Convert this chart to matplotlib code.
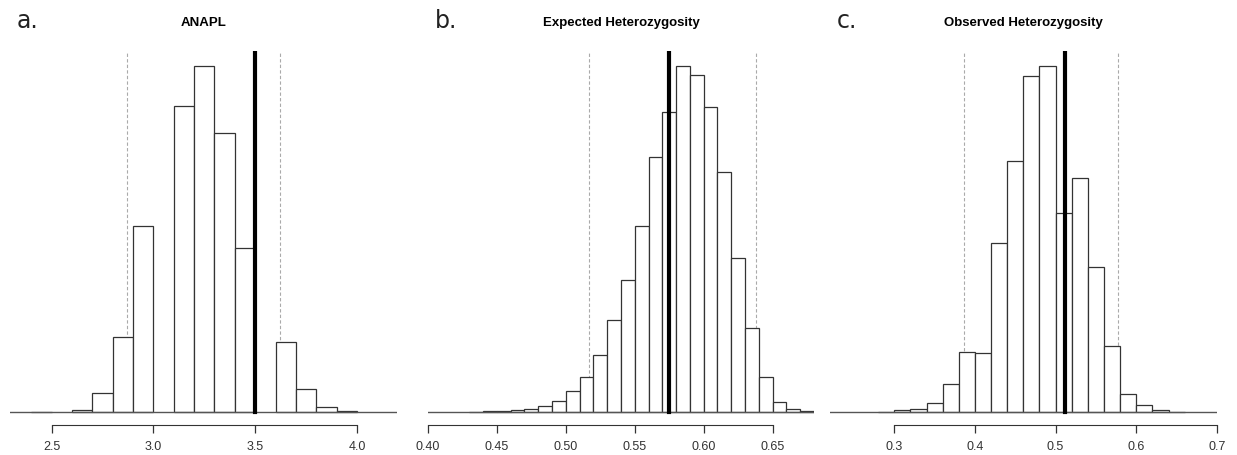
import matplotlib.pyplot as plt
import numpy as np

# panel a: ANAPL, bins of 0.1 starting at 2.4
anapl_start = 2.4
anapl_width = 0.1
anapl_counts = [0.5, 0, 6, 56, 226, 558, 0, 917, 1039, 838, 492, 0, 210, 70, 16, 3]
anapl_obs = 3.5
anapl_ci = [2.872, 3.623]

# panel b: expected heterozygosity, bins of 0.01 starting at 0.43
he_start = 0.43
he_width = 0.01
he_counts = [1, 2, 2, 5, 8, 18, 32, 62, 105, 171, 277, 397, 557, 764, 899,
             1039, 1011, 915, 720, 462, 253, 105, 30, 9, 2]
he_obs = 0.575
he_ci = [0.517, 0.638]

# panel c: observed heterozygosity, bins of 0.02 starting at 0.28
ho_start = 0.28
ho_width = 0.02
ho_counts = [1, 5, 8, 28, 83, 180, 176, 508, 752, 1009, 1039, 597, 702, 434,
             198, 53, 21, 7, 1]
ho_obs = 0.512
ho_ci = [0.386, 0.577]

panels = [
    ("a.", "ANAPL", anapl_start, anapl_width, anapl_counts, anapl_obs, anapl_ci,
     (2.295, 4.197), [2.5, 3.0, 3.5, 4.0], ["2.5", "3.0", "3.5", "4.0"], 10, 397),
    ("b.", "Expected Heterozygosity", he_start, he_width, he_counts, he_obs, he_ci,
     (0.410, 0.680), [0.40, 0.45, 0.50, 0.55, 0.60, 0.65],
     ["0.40", "0.45", "0.50", "0.55", "0.60", "0.65"], 428, 814),
    ("c.", "Observed Heterozygosity", ho_start, ho_width, ho_counts, ho_obs, ho_ci,
     (0.2204, 0.70), [0.3, 0.4, 0.5, 0.6, 0.7], ["0.3", "0.4", "0.5", "0.6", "0.7"], 830, 1217),
]

W, H = 1237, 456
fig = plt.figure(figsize=(W / 100, H / 100), dpi=100)
top_px, bot_px, base_px = 52, 426, 413
ymax = (base_px - top_px) * 3
ymin = -(bot_px - base_px) * 3

for letter, title, start, width, counts, obs, ci, xlim, ticks, labels, x0, x1 in panels:
    ax = fig.add_axes([x0 / W, (H - bot_px) / H, (x1 - x0) / W, (bot_px - top_px) / H])
    left = start + width * np.arange(len(counts))
    counts = np.array(counts, dtype=float)
    keep = counts > 0
    ax.bar(left[keep], counts[keep], width=width, align="edge", facecolor="white",
           edgecolor="#333333", linewidth=0.9, zorder=2)
    ax.axhline(0, color="#555555", linewidth=1.0, zorder=3)
    for c in ci:
        ax.plot([c, c], [0, ymax], color="#aaaaaa", linestyle="--", linewidth=0.8, dashes=(3, 2), zorder=1)
    ax.plot([obs, obs], [0, ymax], color="black", linewidth=3, zorder=4)
    ax.set_xlim(*xlim)
    ax.set_ylim(ymin, ymax)
    for s in ["top", "right", "left"]:
        ax.spines[s].set_visible(False)
    ax.spines["bottom"].set_bounds(ticks[0], ticks[-1])
    ax.spines["bottom"].set_color("#333333")
    ax.set_yticks([])
    ax.set_xticks(ticks)
    ax.set_xticklabels(labels, family="Liberation Sans")
    ax.tick_params(axis="x", length=6, width=0.9, color="#333333", labelsize=9,
                   labelcolor="#333333", pad=5)
    ax.patch.set_visible(False)
    fig.text((x0 + x1) / 2 / W, 1 - 23 / H, title, ha="center", va="center",
             fontsize=9.5, fontweight="bold", family="Liberation Sans")
    fig.text((x0 + 7) / W, 1 - 21 / H, letter, ha="left", va="center", fontsize=17,
             family="DejaVu Sans", color="#222222")

fig.savefig("out.png", dpi=100)
